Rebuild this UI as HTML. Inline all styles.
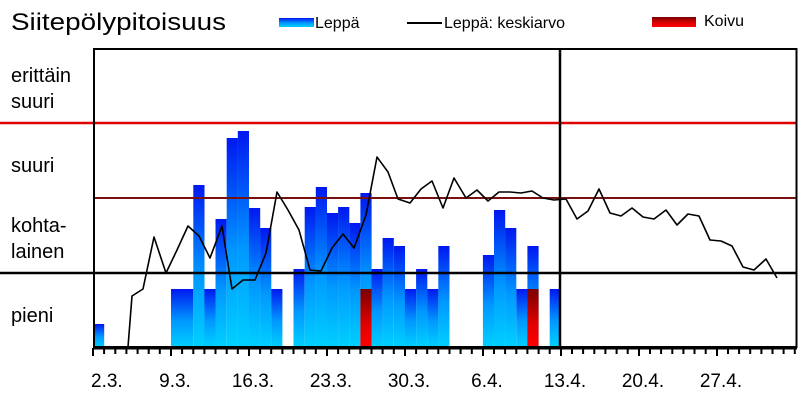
<!DOCTYPE html>
<html><head><meta charset="utf-8"><style>
body{margin:0;background:#fff;}
svg{display:block;font-family:"Liberation Sans",sans-serif;}
</style></head><body>
<svg width="800" height="400" viewBox="0 0 800 400" xmlns="http://www.w3.org/2000/svg">
<defs>
<linearGradient id="gb" x1="0" y1="0" x2="0" y2="1">
<stop offset="0" stop-color="#0018f0"/><stop offset="0.55" stop-color="#0098ff"/><stop offset="1" stop-color="#00d0ff"/>
</linearGradient>
<linearGradient id="gr" x1="0" y1="0" x2="0" y2="1">
<stop offset="0" stop-color="#7a0000"/><stop offset="0.6" stop-color="#e00000"/><stop offset="1" stop-color="#ff0000"/>
</linearGradient>
</defs>
<text x="11" y="30" font-size="24" textLength="215" lengthAdjust="spacingAndGlyphs">Siitepölypitoisuus</text>
<rect x="279" y="18" width="35" height="9" fill="url(#gb)"/>
<text x="315" y="28" font-size="16">Leppä</text>
<line x1="407" y1="23" x2="442" y2="23" stroke="#000" stroke-width="2"/>
<text x="444" y="28" font-size="16">Leppä: keskiarvo</text>
<rect x="652" y="17" width="44" height="10" fill="url(#gr)"/>
<text x="704" y="26" font-size="16">Koivu</text>

<g font-size="20">
<text x="11" y="82">erittäin</text>
<text x="11" y="108">suuri</text>
<text x="11" y="172">suuri</text>
<text x="11" y="232">kohta-</text>
<text x="11" y="258">lainen</text>
<text x="11" y="322">pieni</text>
</g>

<g id="bars">
<rect x="93.0" y="324" width="11.2" height="23" fill="url(#gb)"/>
<rect x="171.0" y="289" width="22.3" height="58" fill="url(#gb)"/>
<rect x="193.3" y="185" width="11.2" height="162" fill="url(#gb)"/>
<rect x="204.4" y="289" width="11.2" height="58" fill="url(#gb)"/>
<rect x="215.5" y="219" width="11.2" height="128" fill="url(#gb)"/>
<rect x="226.7" y="138" width="11.2" height="209" fill="url(#gb)"/>
<rect x="237.8" y="131" width="11.2" height="216" fill="url(#gb)"/>
<rect x="249.0" y="208" width="11.2" height="139" fill="url(#gb)"/>
<rect x="260.1" y="228" width="11.2" height="119" fill="url(#gb)"/>
<rect x="271.2" y="289" width="11.2" height="58" fill="url(#gb)"/>
<rect x="293.5" y="269" width="11.2" height="78" fill="url(#gb)"/>
<rect x="304.7" y="207" width="11.2" height="140" fill="url(#gb)"/>
<rect x="315.8" y="187" width="11.2" height="160" fill="url(#gb)"/>
<rect x="327.0" y="213" width="11.2" height="134" fill="url(#gb)"/>
<rect x="338.1" y="207" width="11.2" height="140" fill="url(#gb)"/>
<rect x="349.2" y="223" width="11.2" height="124" fill="url(#gb)"/>
<rect x="360.4" y="193" width="11.2" height="154" fill="url(#gb)"/>
<rect x="360.4" y="289" width="11.2" height="58" fill="url(#gr)"/>
<rect x="371.5" y="269" width="11.2" height="78" fill="url(#gb)"/>
<rect x="382.6" y="238" width="11.2" height="109" fill="url(#gb)"/>
<rect x="393.8" y="246" width="11.2" height="101" fill="url(#gb)"/>
<rect x="404.9" y="289" width="11.2" height="58" fill="url(#gb)"/>
<rect x="416.1" y="269" width="11.2" height="78" fill="url(#gb)"/>
<rect x="427.2" y="289" width="11.2" height="58" fill="url(#gb)"/>
<rect x="438.3" y="246" width="11.2" height="101" fill="url(#gb)"/>
<rect x="482.9" y="255" width="11.2" height="92" fill="url(#gb)"/>
<rect x="494.0" y="210" width="11.2" height="137" fill="url(#gb)"/>
<rect x="505.1" y="228" width="11.2" height="119" fill="url(#gb)"/>
<rect x="516.3" y="289" width="11.2" height="58" fill="url(#gb)"/>
<rect x="527.4" y="246" width="11.2" height="101" fill="url(#gb)"/>
<rect x="527.4" y="289" width="11.2" height="58" fill="url(#gr)"/>
<rect x="549.7" y="289" width="11.2" height="58" fill="url(#gb)"/>
</g>

<line x1="0" y1="123" x2="797" y2="123" stroke="#e00000" stroke-width="2.5"/>
<line x1="93" y1="198" x2="797" y2="198" stroke="#7a1010" stroke-width="2"/>
<line x1="0" y1="273" x2="797" y2="273" stroke="#000" stroke-width="2.5"/>
<rect x="94" y="49" width="702.5" height="298" fill="none" stroke="#000" stroke-width="2"/>
<line x1="560" y1="49" x2="560" y2="348" stroke="#000" stroke-width="2.5"/>

<polyline fill="none" stroke="#000" stroke-width="1.6" stroke-linejoin="round" points="128,347 132,296 143,289 154,237 166,273 177,250 188,226 199,236 210,258 222,226 232,289 243,280 255,280 266,253 277,192 288,210 299,230 310,270 321,271 332,248 343,234 354,248 366,215 377,157 388,172 398,199 410,203 421,189 432,181 443,208 454,178 466,198 477,190 488,201 499,192 510,192 521,193 532,191 543,198 554,200 566,199 577,219 588,211 599,189 610,213 621,216 632,208 643,217 654,219 666,210 677,225 688,214 699,216 710,240 721,241 732,246 743,267 754,270 766,259 777,278"/>

<line x1="93" y1="348" x2="797" y2="348" stroke="#000" stroke-width="3"/>
<g stroke="#000" stroke-width="2" id="ticks">
<path d="M93,348v8M104.1,348v6M115.3,348v6M126.4,348v6M137.6,348v6M148.7,348v6M159.8,348v6M171,348v8M182.1,348v6M193.3,348v6M204.4,348v6M215.5,348v6M226.7,348v6M237.8,348v6M249,348v8M260.1,348v6M271.2,348v6M282.4,348v6M293.5,348v6M304.7,348v6M315.8,348v6M327,348v8M338.1,348v6M349.2,348v6M360.4,348v6M371.5,348v6M382.6,348v6M393.8,348v6M405,348v8M416.1,348v6M427.2,348v6M438.3,348v6M449.5,348v6M460.6,348v6M471.8,348v6M483,348v8M494,348v6M505.1,348v6M516.3,348v6M527.4,348v6M538.6,348v6M549.7,348v6M561,348v8M572,348v6M583.1,348v6M594.3,348v6M605.4,348v6M616.6,348v6M627.7,348v6M639,348v8M650,348v6M661.1,348v6M672.3,348v6M683.4,348v6M694.5,348v6M705.7,348v6M717,348v8M728,348v6M739.1,348v6M750.2,348v6M761.4,348v6M772.5,348v6M783.6,348v6M794.8,348v6"/>
</g>
<g font-size="19" text-anchor="middle">
<text x="91" y="387" text-anchor="start">2.3.</text>
<text x="175" y="387">9.3.</text>
<text x="253" y="387">16.3.</text>
<text x="331" y="387">23.3.</text>
<text x="409" y="387">30.3.</text>
<text x="487" y="387">6.4.</text>
<text x="565" y="387">13.4.</text>
<text x="643" y="387">20.4.</text>
<text x="721" y="387">27.4.</text>
</g>
</svg>
</body></html>
